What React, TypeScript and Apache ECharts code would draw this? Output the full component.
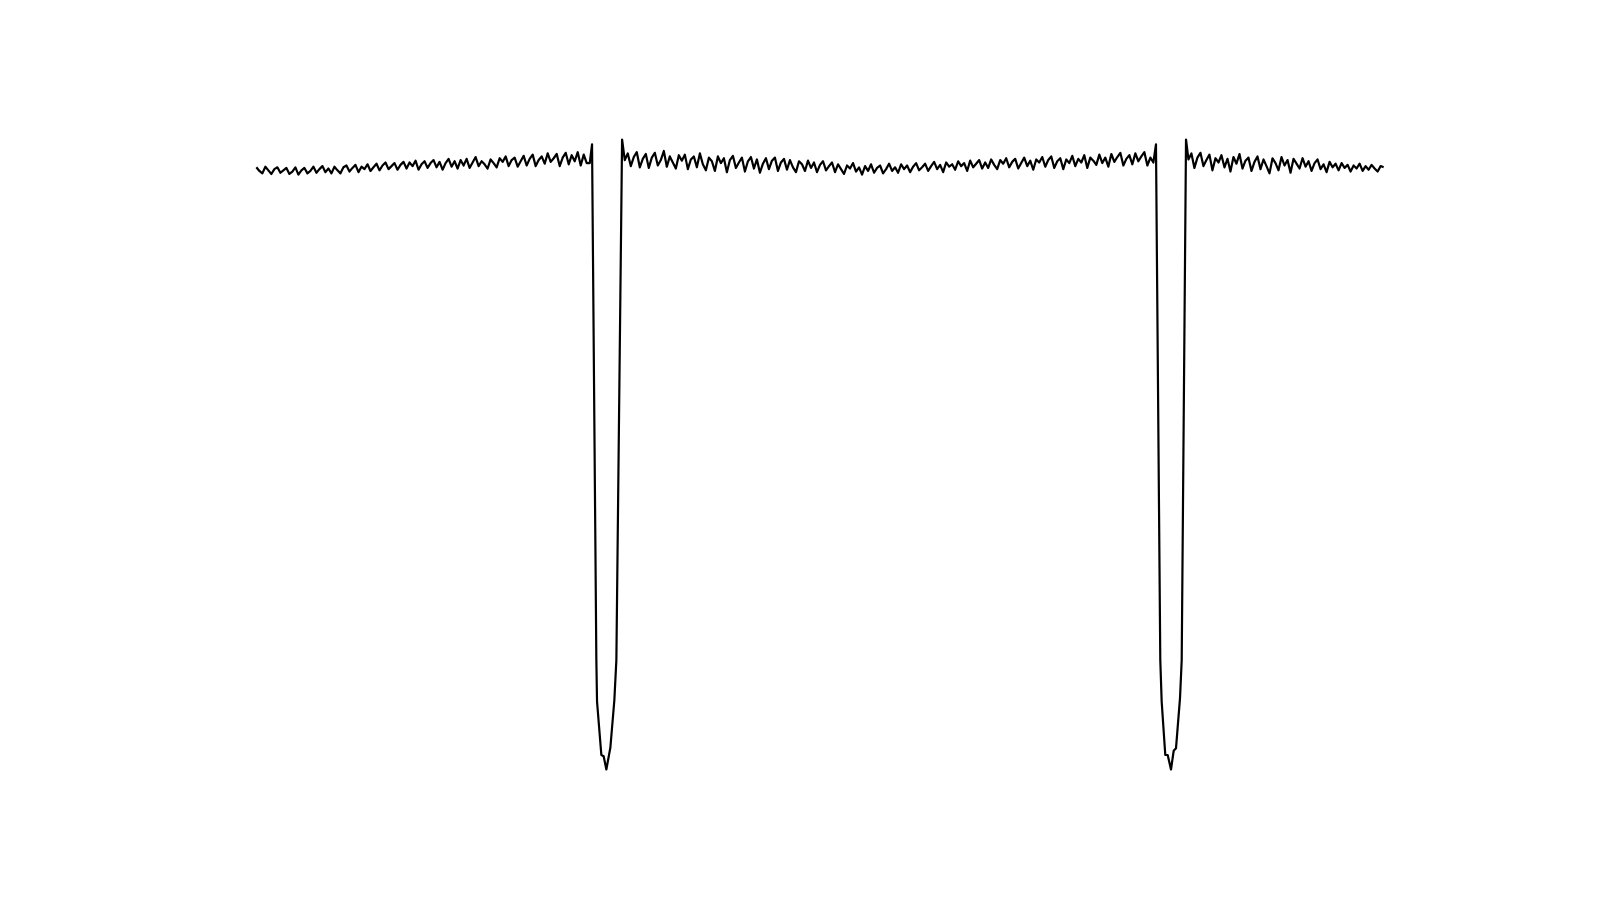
import React, { useEffect, useRef } from "react";
import * as echarts from "echarts";

// Relative flux (x1000) versus time (days); cadence of the regular segments
const cadence = 0.03;

const segAStart = 0;
const segAFlux = [
  996, 990, 986, 997, 991, 985, 993, 996, 987, 991,
  995, 985, 989, 996, 984, 991, 995, 986, 990, 997,
  987, 993, 998, 988, 994, 986, 997, 991, 986, 996,
  999, 989, 995, 1000, 988, 997, 993, 1001, 990, 996,
  1002, 991, 999, 1004, 993, 998, 1003, 992, 1000, 1005,
  994, 1004, 998, 1007, 992, 1001, 1006, 995, 1003, 1008,
  996, 1005, 992, 1003, 1010, 997, 1006, 994, 1008, 999,
  1010, 995, 1004, 1013, 998, 1006, 1001, 994, 1009, 1003,
  996, 1011, 1005, 1014, 998, 1008, 1012, 997, 1006, 1015,
  999, 1010, 1017, 998, 1008, 1014, 1002, 1019, 1005, 1011,
  1018, 998, 1012, 1020, 1001, 1016, 1006, 1021, 999, 1017, 1003,
];

const dip1Time = [3.33, 3.353, 3.396, 3.403, 3.446, 3.469, 3.496, 3.529, 3.536, 3.576, 3.596, 3.653];
const dip1Flux = [1003, 1034, 181, 112, 24, 22, 0, 30, 36, 115, 181, 1042];

const segBStart = 3.68;
const segBFlux = [
  1008, 1019, 998, 1013, 1021, 996, 1010, 1018, 995, 1012,
  1020, 999, 1008, 1023, 997, 1014, 1004, 994, 1016, 1007,
  1017, 993, 1009, 1014, 996, 1019, 1001, 991, 1012, 1006,
  990, 1014, 1003, 1011, 988, 1008, 1015, 995, 1004, 1012,
  989, 1006, 1013, 994, 1009, 987, 1002, 1011, 993, 1007,
  1012, 990, 1004, 1010, 992, 1008, 996, 988, 1006, 1001,
  990, 1007, 995, 1004, 988, 1000, 1006, 991, 998, 1004,
  988, 1001, 993, 985, 999, 994, 1003, 989, 996, 984,
  998, 990, 1001, 987, 995, 999, 986, 993, 1002, 990,
  996, 987, 1001, 993, 999, 988, 997, 1003, 991, 996,
  1002, 990, 998, 1005, 993, 1000, 988, 1004, 997, 1001,
  992, 1006, 998, 1003, 990, 1007, 996, 1002, 1008, 994,
  1004, 995, 1009, 1000, 993, 1008, 1002, 1011, 996, 1005,
  1010, 994, 1003, 1012, 998, 1007, 992, 1009, 1004, 1013,
  997, 1008, 1014, 995, 1006, 1011, 993, 1009, 1003, 1015,
  998, 1010, 1004, 1016, 995, 1012, 1007, 1000, 1017, 1003,
  1012, 997, 1018, 1005, 1013, 1020, 999, 1010, 1016, 1001,
  1019, 1006, 1014, 1021, 999, 1012,
];

const dip2Time = [8.96, 8.986, 9.029, 9.043, 9.079, 9.103, 9.136, 9.163, 9.186, 9.226, 9.243, 9.286];
const dip2Flux = [1004, 1034, 181, 112, 24, 24, 0, 31, 35, 118, 181, 1042];

const segCStart = 9.31;
const segCFlux = [
  1009, 1019, 995, 1012, 1020, 998, 1008, 1017, 991, 1011,
  1004, 1016, 996, 1010, 989, 1013, 1002, 1018, 994, 1007,
  1012, 990, 1005, 1014, 993, 1009, 998, 986, 1011, 1003,
  991, 1013, 999, 1008, 987, 1010, 1002, 994, 1011, 997,
  1006, 990, 1003, 1009, 993, 1001, 988, 1005, 996, 1002,
  991, 1003, 995, 1000, 989, 999, 994, 1002, 990, 998,
  992, 1000, 994, 989, 998, 996,
];

function regular(start: number, values: number[]): number[][] {
  return values.map((v, i) => [+(start + i * cadence).toFixed(4), v]);
}
function explicit(times: number[], values: number[]): number[][] {
  return times.map((t, i) => [t, values[i]]);
}

export default function App() {
  const ref = useRef<HTMLDivElement>(null);
  useEffect(() => {
    if (!ref.current) return;
    const chart = echarts.init(ref.current, undefined, { renderer: "svg" });
    const data = [
      ...regular(segAStart, segAFlux),
      ...explicit(dip1Time, dip1Flux),
      ...regular(segBStart, segBFlux),
      ...explicit(dip2Time, dip2Flux),
      ...regular(segCStart, segCFlux),
    ];
    const xs = data.map((d) => d[0]);
    const ys = data.map((d) => d[1]);
    const xMin = Math.min(...xs), xMax = Math.max(...xs);
    const yMin = Math.min(...ys), yMax = Math.max(...ys);
    const xPad = (xMax - xMin) * 0.05;
    const yPad = (yMax - yMin) * 0.05;
    chart.setOption({
      animation: false,
      backgroundColor: "#ffffff",
      grid: { left: 200, right: 160, top: 108, bottom: 99 },
      xAxis: { type: "value", min: xMin - xPad, max: xMax + xPad, show: false },
      yAxis: { type: "value", min: yMin - yPad, max: yMax + yPad, show: false },
      series: [
        {
          type: "line",
          data,
          symbol: "none",
          showSymbol: false,
          lineStyle: { color: "#000000", width: 2.2, join: "round" },
          itemStyle: { color: "#000000" },
        },
      ],
    });
    return () => chart.dispose();
  }, []);
  return (
    <div
      ref={ref}
      style={{ position: "fixed", left: 0, top: 0, width: 1600, height: 900, background: "#fff" }}
    />
  );
}
